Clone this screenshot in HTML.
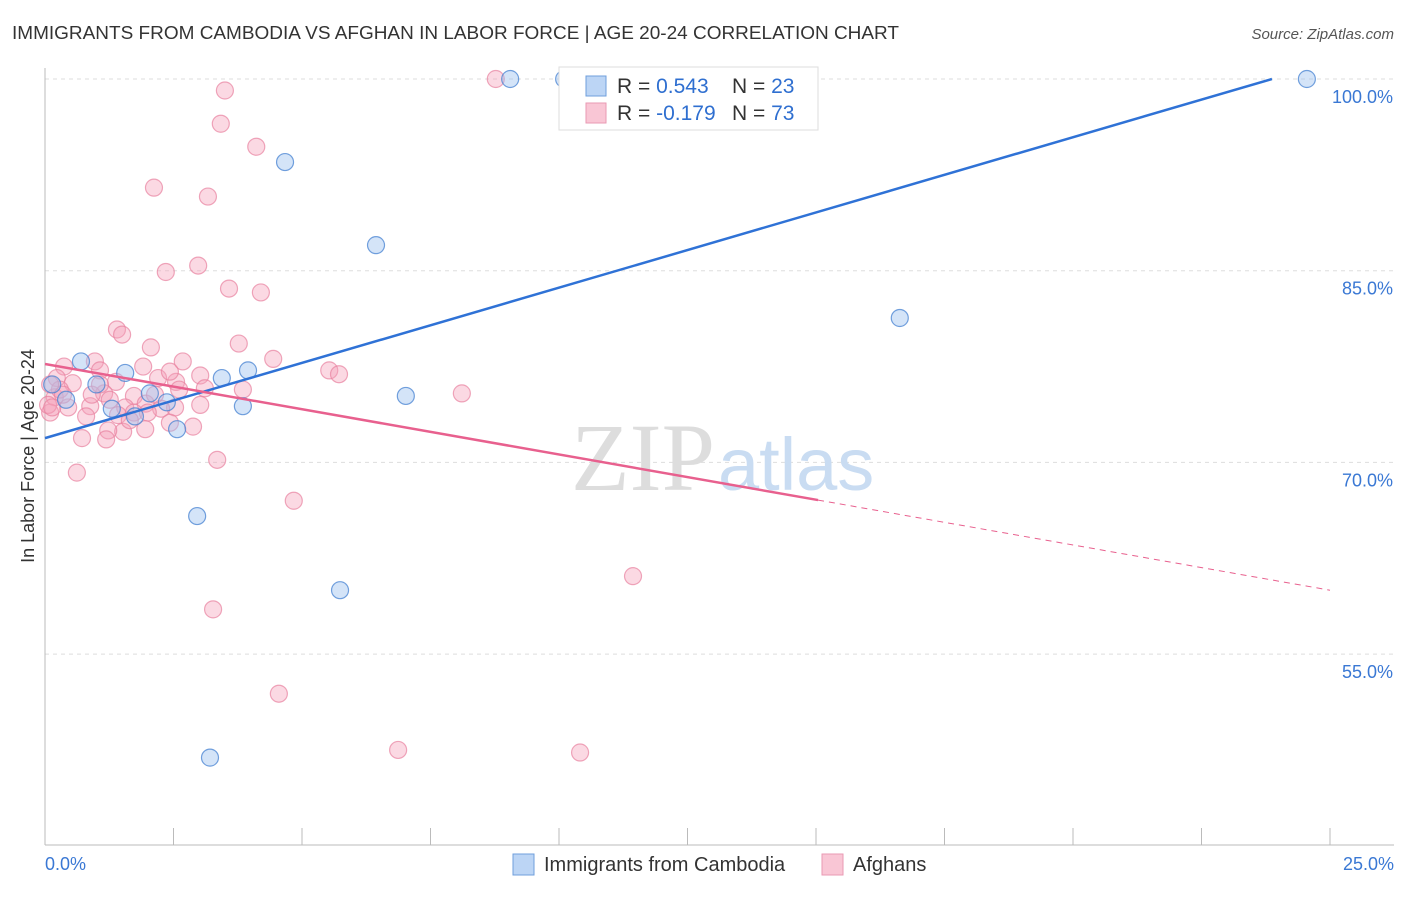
<!DOCTYPE html>
<html><head><meta charset="utf-8"><style>
body{margin:0;background:#fff;font-family:"Liberation Sans",sans-serif;}
</style></head><body>
<svg id="chart" width="1406" height="892" xmlns="http://www.w3.org/2000/svg" font-family="Liberation Sans, sans-serif">
<text x="12" y="39" font-size="18" fill="#333" textLength="887" lengthAdjust="spacingAndGlyphs">IMMIGRANTS FROM CAMBODIA VS AFGHAN IN LABOR FORCE | AGE 20-24 CORRELATION CHART</text>
<text x="1394" y="39" font-size="15" fill="#555" text-anchor="end" font-style="italic">Source: ZipAtlas.com</text>
<text x="34" y="456" font-size="18" fill="#333" text-anchor="middle" transform="rotate(-90 34 456)">In Labor Force | Age 20-24</text>
<g id="grid"></g>
<g id="axes"></g>
<text x="715" y="490" font-size="96" fill="#ddd" text-anchor="end" font-family="Liberation Serif, serif">ZIP</text>
<text x="718" y="490" font-size="74" fill="#c9dcf2">atlas</text>
<g id="pts"></g>
<g id="lines"></g>
<g>
<rect x="559" y="67" width="259" height="63" fill="#fff" stroke="#ddd"/>
<rect x="586" y="76" width="20" height="20" fill="#bcd5f5" stroke="#6f9fdc"/>
<rect x="586" y="103" width="20" height="20" fill="#f9c6d5" stroke="#e99ab3"/>
<text x="617" y="93" font-size="21" fill="#333">R = <tspan fill="#2f6fd0">0.543</tspan><tspan x="732">N = </tspan><tspan fill="#2f6fd0">23</tspan></text>
<text x="617" y="120" font-size="21" fill="#333">R = <tspan fill="#2f6fd0">-0.179</tspan><tspan x="732">N = </tspan><tspan fill="#2f6fd0">73</tspan></text>
</g>
<g>
<rect x="513" y="854" width="21" height="21" fill="#bcd5f5" stroke="#6f9fdc"/>
<text x="544" y="871" font-size="20" fill="#333">Immigrants from Cambodia</text>
<rect x="822" y="854" width="21" height="21" fill="#f9c6d5" stroke="#e99ab3"/>
<text x="853" y="871" font-size="20" fill="#333">Afghans</text>
</g>
</svg>
<script>
const xTicks=[0,2.5,5,7.5,10,12.5,15,17.5,20,22.5,25];
const yTicks=[55,70,85,100];
const yTickLabels=["55.0%","70.0%","85.0%","100.0%"];
const cambodiaX=[9.05,10.1,24.55,4.67,6.44,16.63,0.7,1.56,1.0,3.95,3.44,0.14,0.41,2.04,2.37,1.3,3.85,7.02,1.75,2.57,2.96,5.74,3.21];
const cambodiaY=[100,100,100,93.5,87.0,81.3,77.9,77.0,76.1,77.2,76.6,76.1,74.9,75.4,74.7,74.2,74.4,75.2,73.6,72.6,65.8,60.0,46.9];
const afghanPx=[[496,79],[225,90],[221,124],[256,147],[154,187],[208,196],[166,272],[198,265],[229,288],[261,293],[117,329],[122,335],[151,348],[239,344],[95,361],[183,362],[273,359],[143,367],[64,367],[100,370],[329,371],[339,374],[158,378],[200,376],[116,382],[176,382],[73,383],[57,378],[243,389],[205,388],[179,390],[462,393],[104,393],[134,396],[55,397],[146,404],[90,406],[68,408],[125,408],[175,408],[118,415],[134,412],[86,416],[161,409],[50,413],[148,413],[170,423],[193,427],[123,432],[108,430],[145,429],[82,438],[106,439],[217,460],[77,473],[294,501],[633,576],[213,609],[279,694],[398,750],[580,753],[48,405],[60,390],[130,420],[155,395],[170,372],[92,395],[110,400],[200,405],[50,385],[63,395],[100,385],[52,408]];
const afghanX=afghanPx.map(p=>+((p[0]-45)/51.4).toFixed(2));
const afghanY=afghanPx.map(p=>+(100-(p[1]-79)/12.78).toFixed(1));
const cambodiaTrend=[71.9,100];
const cambodiaTrendEndX=23.87;
const afghanTrend=[77.7,60.0];
const afghanSolidEndX=15.04;

const X=v=>45+v*(1285/25);
const Y=v=>79+(100-v)*12.78;
const NS="http://www.w3.org/2000/svg";
function mk(tag,attrs,parent){const e=document.createElementNS(NS,tag);for(const k in attrs)e.setAttribute(k,attrs[k]);parent.appendChild(e);return e;}
const grid=document.getElementById('grid'),axes=document.getElementById('axes'),pts=document.getElementById('pts'),lines=document.getElementById('lines');
yTicks.forEach((t,i)=>{
 const l=mk('line',{x1:45,x2:1394,y1:Y(t),y2:Y(t),stroke:'#ddd','stroke-dasharray':'4 4'},grid);
 
 
 const tx=mk('text',{x:1393,y:Y(t)+24,'font-size':18,fill:'#3a78d4','text-anchor':'end'},axes);
 tx.textContent=yTickLabels[i];
 
 
});
const ax=mk('line',{x1:45,x2:1394,y1:845,y2:845,stroke:'#bbb'},axes);


const ay=mk('line',{x1:45,x2:45,y1:68,y2:845,stroke:'#bbb'},axes);


xTicks.forEach(t=>{
 const l=mk('line',{x1:X(t),x2:X(t),y1:828,y2:845,stroke:'#bbb'},axes);
 
 
});
const xl0=mk('text',{x:45,y:870,'font-size':18,fill:'#3a78d4'},axes);xl0.textContent='0.0%';


const xl1=mk('text',{x:1394,y:870,'font-size':18,fill:'#3a78d4','text-anchor':'end'},axes);xl1.textContent='25.0%';


afghanX.forEach((x,i)=>{
 const c=mk('circle',{cx:X(x),cy:Y(afghanY[i]),r:8.5,fill:'rgba(244,160,185,0.4)',stroke:'rgba(232,130,160,0.7)','stroke-width':1.2},pts);
 
 
});
cambodiaX.forEach((x,i)=>{
 const c=mk('circle',{cx:X(x),cy:Y(cambodiaY[i]),r:8.5,fill:'rgba(160,195,240,0.45)',stroke:'rgba(70,130,210,0.75)','stroke-width':1.2},pts);
 
 
});
const bl=mk('line',{x1:X(0),y1:Y(cambodiaTrend[0]),x2:X(cambodiaTrendEndX),y2:Y(cambodiaTrend[1]),stroke:'#2f72d6','stroke-width':2.5},lines);


const ay2=afghanTrend[0]+(afghanTrend[1]-afghanTrend[0])*afghanSolidEndX/25;
const pl=mk('line',{x1:X(0),y1:Y(afghanTrend[0]),x2:X(afghanSolidEndX),y2:Y(ay2),stroke:'#e8608e','stroke-width':2.5},lines);


const pd=mk('line',{x1:X(afghanSolidEndX),y1:Y(ay2),x2:X(25),y2:Y(afghanTrend[1]),stroke:'#e8608e','stroke-width':1,'stroke-dasharray':'6 5'},lines);


</script>
</body></html>
